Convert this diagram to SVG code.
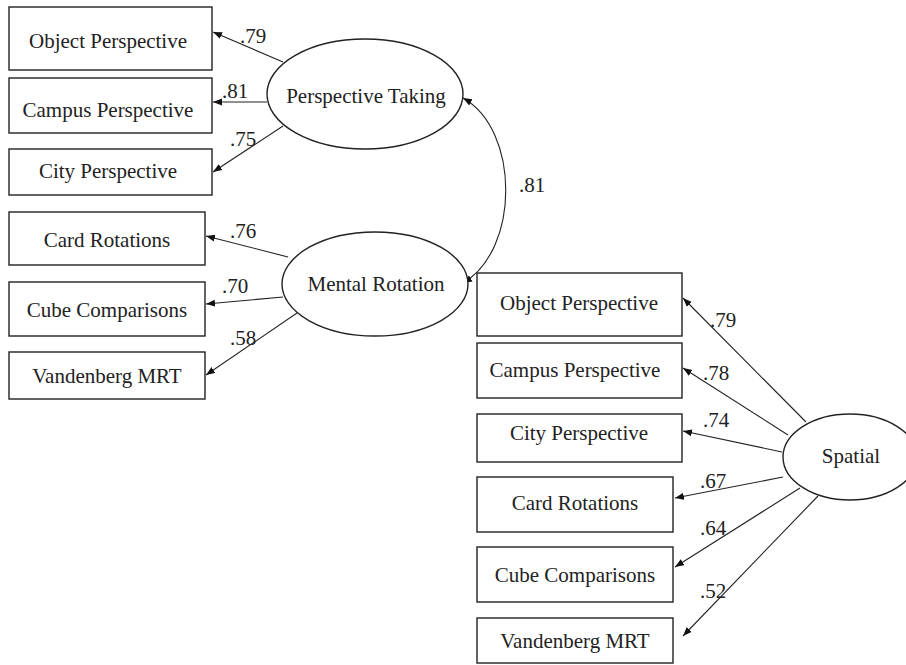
<svg xmlns="http://www.w3.org/2000/svg" width="906" height="665" viewBox="0 0 906 665">
<defs>
<marker id="ah" markerUnits="userSpaceOnUse" markerWidth="10" markerHeight="8" refX="9" refY="3.5" orient="auto-start-reverse">
<path d="M0,0 L9,3.5 L0,7 z" fill="#111"/>
</marker>
<style>
.box{fill:#fff;stroke:#222;stroke-width:1.4}
.ell{fill:#fff;stroke:#222;stroke-width:1.4}
.t{font-family:"Liberation Serif","Times New Roman",serif;font-size:21px;fill:#222;text-anchor:middle}
.l{font-family:"Liberation Serif","Times New Roman",serif;font-size:21px;fill:#222}
.c{stroke:#222;stroke-width:1.1;fill:none;marker-end:url(#ah)}
</style>
</defs>
<rect width="906" height="665" fill="#fff"/>
<g id="connectors">
<line class="c" x1="283" y1="62" x2="213" y2="32"/>
<line class="c" x1="267" y1="102" x2="213" y2="102"/>
<line class="c" x1="283" y1="126" x2="213" y2="172"/>
<line class="c" x1="288" y1="257" x2="206" y2="236"/>
<line class="c" x1="283" y1="297" x2="206" y2="304"/>
<line class="c" x1="297" y1="313" x2="206" y2="375"/>
<path class="c" d="M463,98 C520,130 520,250 463,283" marker-start="url(#ah)"/>
<line class="c" x1="806" y1="422" x2="683" y2="298"/>
<line class="c" x1="788" y1="435" x2="683" y2="368"/>
<line class="c" x1="782" y1="452" x2="683" y2="431"/>
<line class="c" x1="783" y1="477" x2="675" y2="498"/>
<line class="c" x1="800" y1="488" x2="675" y2="567"/>
<line class="c" x1="818" y1="496" x2="683" y2="636"/>
<text class="l" x="240" y="43">.79</text>
<text class="l" x="222" y="98">.81</text>
<text class="l" x="230" y="146">.75</text>
<text class="l" x="230" y="238">.76</text>
<text class="l" x="222" y="293">.70</text>
<text class="l" x="230" y="345">.58</text>
<text class="l" x="519" y="192">.81</text>
<text class="l" x="710" y="327">.79</text>
<text class="l" x="703" y="380">.78</text>
<text class="l" x="703" y="427">.74</text>
<text class="l" x="700" y="488">.67</text>
<text class="l" x="700" y="535">.64</text>
<text class="l" x="700" y="598">.52</text>
</g>
<g id="pt"><ellipse class="ell" cx="365" cy="94" rx="98" ry="55"/><text class="t" x="366" y="103">Perspective Taking</text></g>
<g id="mr"><ellipse class="ell" cx="375" cy="284" rx="93" ry="52"/><text class="t" x="376" y="291">Mental Rotation</text></g>
<g id="sp"><ellipse class="ell" cx="850" cy="457" rx="67" ry="43"/><text class="t" x="851" y="463">Spatial</text></g>
<g id="l-obj"><rect class="box" x="9" y="7" width="203" height="63"/><text class="t" x="108" y="48">Object Perspective</text></g>
<g id="l-cam"><rect class="box" x="9" y="78" width="203" height="55"/><text class="t" x="108" y="117">Campus Perspective</text></g>
<g id="l-city"><rect class="box" x="9" y="149" width="203" height="46"/><text class="t" x="108" y="178">City Perspective</text></g>
<g id="l-card"><rect class="box" x="9" y="212" width="196" height="53"/><text class="t" x="107" y="247">Card Rotations</text></g>
<g id="l-cube"><rect class="box" x="9" y="282" width="196" height="54"/><text class="t" x="107" y="317">Cube Comparisons</text></g>
<g id="l-mrt"><rect class="box" x="9" y="352" width="196" height="47"/><text class="t" x="107" y="383">Vandenberg MRT</text></g>
<g id="r-obj"><rect class="box" x="477" y="273" width="205" height="63"/><text class="t" x="579" y="310">Object Perspective</text></g>
<g id="r-cam"><rect class="box" x="477" y="343" width="205" height="55"/><text class="t" x="575" y="377">Campus Perspective</text></g>
<g id="r-city"><rect class="box" x="477" y="414" width="205" height="48"/><text class="t" x="579" y="440">City Perspective</text></g>
<g id="r-card"><rect class="box" x="477" y="477" width="196" height="55"/><text class="t" x="575" y="510">Card Rotations</text></g>
<g id="r-cube"><rect class="box" x="477" y="547" width="196" height="55"/><text class="t" x="575" y="582">Cube Comparisons</text></g>
<g id="r-mrt"><rect class="box" x="477" y="618" width="196" height="45"/><text class="t" x="575" y="648">Vandenberg MRT</text></g>
</svg>
